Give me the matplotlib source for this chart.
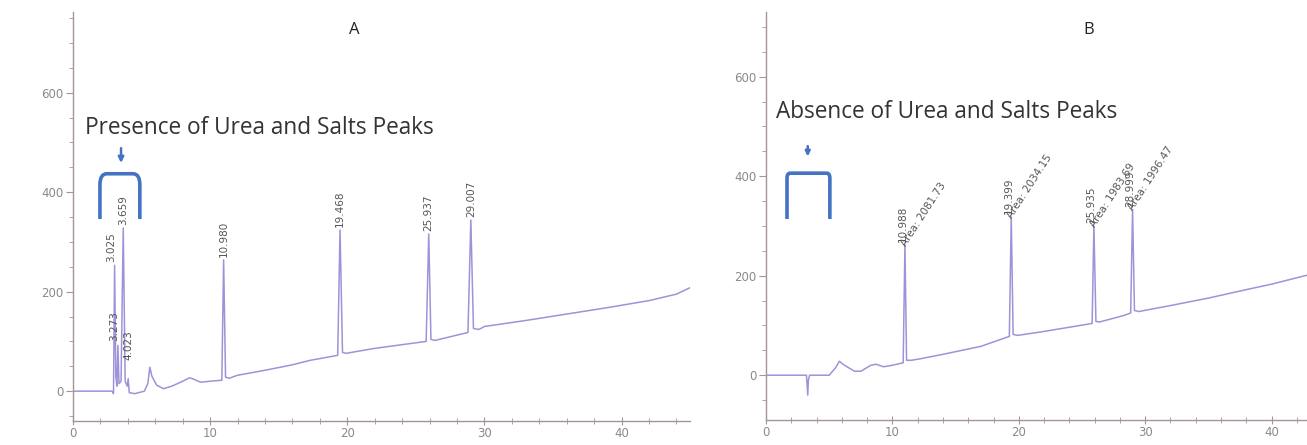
import numpy as np
import matplotlib
matplotlib.use('Agg')
import matplotlib.pyplot as plt
from matplotlib.path import Path
from matplotlib.patches import PathPatch
from matplotlib.ticker import MultipleLocator

# chromatogram A (with urea and salts)
time_a = [0, 2.85, 2.95, 3.03, 3.12, 3.2, 3.27, 3.35, 3.5, 3.66, 3.8, 3.95, 4.02, 4.1, 4.5,
          5.2, 5.45, 5.6, 5.75, 6.1, 6.6, 7.2, 8.0, 8.5, 8.8, 9.3, 10.0, 10.85, 10.98, 11.12,
          11.4, 12, 14, 16, 17, 17.3, 19.3, 19.47, 19.65, 19.9, 22, 25.75, 25.94, 26.1, 26.4,
          28.8, 29.01, 29.2, 29.6, 30, 33, 36, 39, 42, 44, 45]
signal_a = [0, 0, -5, 253, 30, 10, 92, 15, 20, 328, 20, 10, 25, -3, -5,
            0, 15, 48, 30, 12, 5, 10, 20, 27, 24, 18, 20, 22, 264, 28,
            26, 32, 42, 53, 60, 62, 72, 324, 78, 76, 86, 100, 316, 104, 102,
            118, 344, 126, 124, 130, 142, 155, 168, 182, 195, 208]
peaks_a = [3.025, 3.273, 3.659, 4.023, 10.980, 19.468, 25.937, 29.007]
peak_top_a = [255, 96, 330, 58, 266, 326, 318, 346]
peak_lab_a = ['3.025', '3.273', '3.659', '4.023', '10.980', '19.468', '25.937', '29.007']

# chromatogram B (urea and salts removed)
time_b = [0, 3.2, 3.3, 3.35, 3.45, 3.6, 5.0, 5.5, 5.8, 6.2, 7.0, 7.5, 8.3, 8.7, 9.3, 10.0,
          10.85, 10.99, 11.12, 11.5, 12.2, 14, 17, 19.25, 19.4, 19.55, 19.9, 22, 25.8, 25.94,
          26.1, 26.4, 28.3, 28.85, 29.0, 29.15, 29.5, 32, 35, 38, 40, 42.8]
signal_b = [0, 0, -40, -10, 0, 0, 0, 15, 28, 20, 8, 8, 20, 22, 17, 20,
            25, 262, 30, 30, 33, 42, 58, 78, 318, 82, 80, 88, 104, 300,
            108, 107, 120, 125, 333, 130, 128, 140, 155, 172, 183, 201]
peaks_b = [10.988, 19.399, 25.935, 28.999]
peak_top_b = [264, 320, 302, 335]
peak_lab_b = ['10.988', '19.399', '25.935', '28.999']
area_lab_b = ['Area: 2081.73', 'Area: 2034.15', 'Area: 1983.69', 'Area: 1996.47']

trace_col = '#9d93d8'
spine_col = '#a49494'
blue = '#4472c4'
tick_col = '#8a8a8a'

fig = plt.figure(figsize=(13.07, 4.45), dpi=100)
ax_a = fig.add_axes([0.0559, 0.0539, 0.4721, 0.919])
ax_b = fig.add_axes([0.5861, 0.0562, 0.4139, 0.9169])


def style_axis(ax, xmax, ylo, yhi):
    ax.set_xlim(0, xmax)
    ax.set_ylim(ylo, yhi)
    for s in ['top', 'right']:
        ax.spines[s].set_visible(False)
    for s in ['left', 'bottom']:
        ax.spines[s].set_color(spine_col)
        ax.spines[s].set_linewidth(1.0)
    ax.xaxis.set_major_locator(MultipleLocator(10))
    ax.xaxis.set_minor_locator(MultipleLocator(2))
    ax.yaxis.set_major_locator(MultipleLocator(200))
    ax.yaxis.set_minor_locator(MultipleLocator(50))
    ax.tick_params(axis='y', which='major', length=5, color=spine_col,
                   labelcolor=tick_col, labelsize=8.5, pad=2)
    ax.tick_params(axis='y', which='minor', length=3, color=spine_col)
    ax.tick_params(axis='x', which='major', direction='inout', length=6, color=spine_col,
                   labelcolor=tick_col, labelsize=8.5, pad=1)
    ax.tick_params(axis='x', which='minor', direction='inout', length=4, color=spine_col)


def bracket(ax, x0, x1, ytop, ybot, r_x, r_y):
    verts = [(x0, ybot), (x0, ytop - r_y), (x0, ytop), (x0 + r_x, ytop),
             (x1 - r_x, ytop), (x1, ytop), (x1, ytop - r_y), (x1, ybot)]
    codes = [Path.MOVETO, Path.LINETO, Path.CURVE3, Path.CURVE3,
             Path.LINETO, Path.CURVE3, Path.CURVE3, Path.LINETO]
    ax.add_patch(PathPatch(Path(verts, codes), fill=False, edgecolor=blue, lw=2.6,
                           capstyle='butt'))


# ---- panel A ----
style_axis(ax_a, 45, -60, 762)
ax_a.plot(time_a, signal_a, color=trace_col, lw=1.1)
for x, top, lab in zip(peaks_a, peak_top_a, peak_lab_a):
    dx = -0.25 if lab in ('3.025', '3.273') else 0.0
    ax_a.text(x + dx, top + 4, lab, rotation=90, ha='center', va='bottom',
              fontsize=7.5, color='#555555')
ax_a.text(20.5, 726, 'A', ha='center', va='center', fontsize=12, color='#222222',
          family='Open Sans')
ax_a.text(0.87, 529, 'Presence of Urea and Salts Peaks', ha='left', va='center',
          fontsize=16.3, color='#333333', family='Open Sans')
bracket(ax_a, 1.96, 4.87, 437, 346, 0.5, 22)
ax_a.annotate('', xy=(3.5, 453), xytext=(3.5, 494),
              arrowprops=dict(arrowstyle='-|>', color=blue, lw=1.8, mutation_scale=8))

# ---- panel B ----
style_axis(ax_b, 42.8, -90, 730)
ax_b.plot(time_b, signal_b, color=trace_col, lw=1.1)
for x, top, lab, area in zip(peaks_b, peak_top_b, peak_lab_b, area_lab_b):
    ax_b.text(x - 0.2, top + 4, lab, rotation=90, ha='center', va='bottom',
              fontsize=7.5, color='#555555')
    ax_b.text(x + 0.2, top - 8, area, rotation=57, ha='left', va='bottom',
              rotation_mode='anchor', fontsize=7.5, color='#555555')
ax_b.text(25.5, 693, 'B', ha='center', va='center', fontsize=12, color='#222222',
          family='Open Sans')
ax_b.text(0.76, 529, 'Absence of Urea and Salts Peaks', ha='left', va='center',
          fontsize=16.3, color='#333333', family='Open Sans')
bracket(ax_b, 1.66, 5.05, 406, 314, 0.25, 10)
ax_b.annotate('', xy=(3.3, 434), xytext=(3.3, 466),
              arrowprops=dict(arrowstyle='-|>', color=blue, lw=1.8, mutation_scale=7))

fig.savefig('out.png', dpi=100)
